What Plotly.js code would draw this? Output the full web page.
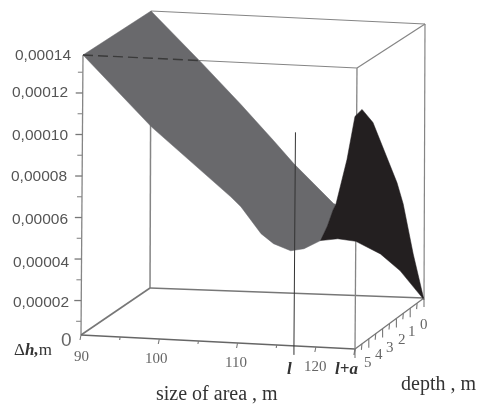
<!DOCTYPE html>
<html><head><meta charset="utf-8">
<script src="https://cdn.plot.ly/plotly-3.0.1.min.js"></script>
<style>html,body{margin:0;padding:0;background:#fff}#plot{width:480px;height:407px;filter:blur(0.45px)}</style>
</head><body><div id="plot"></div>
<script>
// Surface edges: size of area (m), heights in micrometres
const frontSize=[90,98.8,109,110.3,112.9,114.5,116.7,118.4,120.5];
const frontDh=[138.3,105.3,73.5,69,56.5,52,49,50.3,54.6];
const backSize=[90,96.4,101.5,105.7,108.3,113.4,113.7];
const backDh=[138.3,114.5,94.8,77.8,66.9,48.1,47.7];
const seamSize=[115.1,117];
const seamDepth=[1,2.5];
const seamDh=[50,49.4];
const endFrontSize=[120.5,122.7,125];
const endFrontDh=[54.6,55.9,55.1];
const endDepth=[3.19,1.74,0];
const endDh=[40.5,25.3,2.5];
const peakSize=[125,123.6,122.3,121.5,119.7,118.4,117,116.1,115.1,113.7];
const peakDh=[2.5,24.9,49.3,59.6,77,88.7,94.9,91.3,70,47.7];
const sizeMajor=[90,100,110,120];
const sizeMinor=[95,105,115,125];
const depthTicks=[0,0.5,1,1.5,2,2.5,3,3.5,4,4.5,5];
const dhMajor=[20,40,60,80,100,120];
const dhMinor=[10,30,50,70,90,110,130];
const lineL=117.2, lineLTop=106;
const dhLabels=['0,00014','0,00012','0,00010','0,00008','0,00006','0,00004','0,00002'];
const sizeLabels=['90','100','110','120'];
const depthLabels=['0','1','2','3','4','5'];

const S=[90,125],D=[5,0],H=[3.4,138.3];
const C={ // box corner positions [size idx][depth idx][height idx]
 '000':[81,335],'100':[355,349],'010':[150,288],'110':[424,298],
 '001':[83,55],'101':[357,68],'011':[151,11],'111':[425,24]};
function proj(s,d,h){
 const a=(s-S[0])/(S[1]-S[0]),b=(d-D[0])/(D[1]-D[0]),c=(h-H[0])/(H[1]-H[0]);
 let x=0,y=0;
 for(const i of [0,1])for(const j of [0,1])for(const k of [0,1]){
  const w=(i?a:1-a)*(j?b:1-b)*(k?c:1-c),p=C[''+i+j+k];
  x+=w*p[0];y+=w*p[1];
 }
 return [x,y];
}
function path(pts){const r=pts.map(p=>proj(p[0],p[1],p[2]));return {x:r.map(p=>p[0]),y:r.map(p=>p[1])};}
function seg(a,b,color,width,dash){const p=path([a,b]);return {type:'scatter',mode:'lines',x:p.x,y:p.y,line:{color,width,dash:dash||'solid'},hoverinfo:'skip'};}
function poly(pts,color){const p=path(pts);return {type:'scatter',mode:'lines',x:p.x.concat(p.x[0]),y:p.y.concat(p.y[0]),fill:'toself',fillcolor:color,line:{color:color,width:0.5},hoverinfo:'skip'};}
function ticks(list,dx,dy,color,width){const x=[],y=[];for(const t of list){const q=proj(t[0],t[1],t[2]);x.push(q[0],q[0]+dx,null);y.push(q[1],q[1]+dy,null);}return {type:'scatter',mode:'lines',x,y,line:{color,width},hoverinfo:'skip'};}

const boxC='#858585';
const gray=[];
frontSize.forEach((s,i)=>gray.push([s,5,frontDh[i]]));
for(let i=seamSize.length-1;i>=0;i--)gray.push([seamSize[i],seamDepth[i],seamDh[i]]);
for(let i=backSize.length-1;i>=0;i--)gray.push([backSize[i],0,backDh[i]]);
gray.splice(frontSize.length,0);
const black=[];
endFrontSize.forEach((s,i)=>black.push([s,5,endFrontDh[i]]));
endDepth.forEach((d,i)=>black.push([125,d,endDh[i]]));
peakSize.forEach((s,i)=>black.push([s,0,peakDh[i]]));
seamSize.forEach((s,i)=>black.push([s,seamDepth[i],seamDh[i]]));

const traces=[
 seg([90,5,H[0]],[90,5,H[1]],boxC,1.3),
 seg([90,0,H[0]],[90,0,H[1]],boxC,1.5),
 seg([90,5,H[0]],[90,0,H[0]],'#777',1.6),
 seg([90,0,H[0]],[125,0,H[0]],'#777',1.4),
 seg([90,5,H[0]],[125,5,H[0]],'#666',1.4),
 seg([125,5,H[0]],[125,5,H[1]],boxC,1.3),
 seg([125,0,H[0]],[125,0,H[1]],boxC,1.2),
 seg([90,5,H[1]],[125,5,H[1]],boxC,1.2),
 seg([90,0,H[1]],[125,0,H[1]],boxC,1.2),
 seg([125,5,H[1]],[125,0,H[1]],boxC,1.2),
 seg([125,5,H[0]],[125,0,H[0]],'#777',1.3),
 poly(gray,'#69696c'),
 poly(black,'#231f20'),
 seg([90,5,H[1]],[105,5,H[1]],'#3a3a3a',1.4,'10px,5px'),
 ticks(dhMajor.map(h=>[90,5,h]),-7,0,'#777',1.3),
 ticks(dhMinor.map(h=>[90,5,h]),-5,0,'#888',1.1),
 ticks(sizeMajor.map(s=>[s,5,H[0]]),-1,5,'#777',1.1),
 ticks(sizeMinor.map(s=>[s,5,H[0]]),-0.5,3,'#777',1.1),
 ticks(depthTicks.filter(d=>d%1===0).map(d=>[125,d,H[0]]),0,9,'#777',1.1),
 ticks(depthTicks.filter(d=>d%1!==0).map(d=>[125,d,H[0]]),-0.5,6,'#777',1.1),
 ticks([[125,5,H[0]]],-1,6,'#777',1.3),
 seg([lineL,5,H[0]],[lineL,5,lineLTop],'#333',1),
 ticks([[lineL,5,H[0]]],0,9,'#333',1)
];

const num={family:'Liberation Sans, Arial, sans-serif',size:15.5,color:'#555'};
const serif={family:'Liberation Serif, Times New Roman, serif',size:15,color:'#666'};
const big={family:'Liberation Serif, Times New Roman, serif',size:20,color:'#333'};
const ital={family:'Liberation Serif, Times New Roman, serif',size:17,color:'#333'};
function T(text,x,y,font,anchor){return {text,x,y,xref:'x',yref:'y',showarrow:false,font,xanchor:anchor||'center',yanchor:'middle',borderpad:0};}
const dhY=[54,91,134,175,218,261,301], dhX=[72,69,69,68,69,70,70];
const sizeX=[81,156,236,315], sizeY=[356,358,362,366];
const depthX=[424,412,402,390,379,368], depthY=[324,331,339,347,354,362];
const annos=[];
dhLabels.forEach((t,i)=>annos.push(T(t,dhX[i],dhY[i],num,'right')));
annos.push(T('0',73,339,{...num,size:19,color:'#666'},'right'));
sizeLabels.forEach((t,i)=>annos.push(T(t,sizeX[i],sizeY[i],serif)));
depthLabels.forEach((t,i)=>annos.push(T(t,depthX[i],depthY[i],serif)));
annos.push(T('Δ<b><i>h,</i></b>m',33,349,ital));
annos.push(T('<b><i>l</i></b>',289,368,ital));
annos.push(T('<b><i>l+a</i></b>',346,368,ital));
annos.push(T('size of area , m',217,393,big));
annos.push(T('depth , m',438,383,big));

Plotly.newPlot('plot',traces,{
 width:480,height:407,margin:{l:0,r:0,t:0,b:0},showlegend:false,
 paper_bgcolor:'#fff',plot_bgcolor:'#fff',
 xaxis:{range:[0,480],visible:false,fixedrange:true},
 yaxis:{range:[407,0],visible:false,fixedrange:true},
 annotations:annos
},{staticPlot:true,displayModeBar:false});
</script></body></html>
